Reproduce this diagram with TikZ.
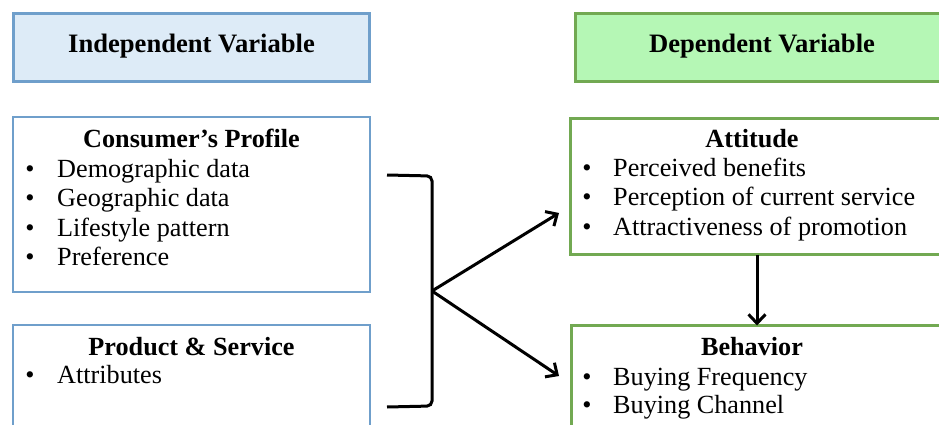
\documentclass[tikz,border=0pt]{standalone}
\usepackage{fontspec}
\setmainfont{Liberation Serif}
\usetikzlibrary{arrows.meta}
\definecolor{ivfill}{HTML}{DDEBF7}
\definecolor{ivline}{HTML}{6F9FCB}
\definecolor{dvfill}{HTML}{B5F7B5}
\definecolor{dvline}{HTML}{72A952}
\begin{document}
\begin{tikzpicture}[x=1pt,y=-1pt,
  font=\fontsize{26.2}{30}\selectfont,
  headiv/.style={draw=ivline, fill=ivfill, line width=3pt, anchor=north west, inner sep=0pt, outer sep=0pt},
  headdv/.style={draw=dvline, fill=dvfill, line width=3pt, anchor=north west, inner sep=0pt, outer sep=0pt},
  boxiv/.style={draw=ivline, fill=white, line width=2.2pt, anchor=north west, inner sep=0pt, outer sep=0pt},
  boxdv/.style={draw=dvline, fill=white, line width=3pt, anchor=north west, inner sep=0pt, outer sep=0pt},
  ttl/.style={anchor=base, font=\fontsize{26.2}{30}\selectfont\bfseries, inner sep=0pt},
  httl/.style={anchor=base, font=\fontsize{26.6}{30}\selectfont\bfseries, inner sep=0pt},
  itm/.style={anchor=base west, inner sep=0pt},
  bul/.style={anchor=base, inner sep=0pt},
  conn/.style={line width=3pt, black},
  arr/.style={line width=3pt, black, -{Straight Barb[length=9pt,width=17pt]}}
]
\useasboundingbox (0,0) rectangle (939,425);
\fill[white] (0,0) rectangle (939,425);
\clip (0,0) rectangle (939,425);

% headers
\node[headiv, minimum width=356pt, minimum height=68pt] (ivh) at (13.5,13.5) {};
\node[httl] (ivht) at (191.5,53) {Independent Variable};
\node[headdv, minimum width=400pt, minimum height=68pt] (dvh) at (575.5,13.5) {};
\node[httl] (dvht) at (762,53) {Dependent Variable};

% Consumer's Profile
\node[boxiv, minimum width=357pt, minimum height=175pt] (cp) at (13,117) {};
\node[ttl] (cpt) at (191.5,147) {Consumer’s Profile};
\node[bul] (cpb1) at (30,177) {•};
\node[itm] (cp1) at (57,177) {Demographic data};
\node[bul] (cpb2) at (30,206) {•};
\node[itm] (cp2) at (57,206) {Geographic data};
\node[bul] (cpb3) at (30,236) {•};
\node[itm] (cp3) at (57,236) {Lifestyle pattern};
\node[bul] (cpb4) at (30,265) {•};
\node[itm] (cp4) at (57,265) {Preference};

% Product & Service
\node[boxiv, minimum width=357pt, minimum height=130pt] (ps) at (13,325) {};
\node[ttl] (pst) at (191.5,355) {Product \& Service};
\node[bul] (psb1) at (30,383) {•};
\node[itm] (ps1) at (57,383) {Attributes};

% Attitude
\node[boxdv, minimum width=400pt, minimum height=136pt] (att) at (570.5,118.5) {};
\node[ttl] (attt) at (752,147) {Attitude};
\node[bul] (atb1) at (587,176) {•};
\node[itm] (at1) at (613,176) {Perceived benefits};
\node[bul] (atb2) at (587,205) {•};
\node[itm] (at2) at (613,205) {Perception of current service};
\node[bul] (atb3) at (587,235) {•};
\node[itm] (at3) at (613,235) {Attractiveness of promotion};

% Behavior
\node[boxdv, minimum width=400pt, minimum height=130pt] (beh) at (571.5,325.5) {};
\node[ttl] (beht) at (752,355) {Behavior};
\node[bul] (bhb1) at (587,385) {•};
\node[itm] (bh1) at (613,385) {Buying Frequency};
\node[bul] (bhb2) at (587,413) {•};
\node[itm] (bh2) at (613,413) {Buying Channel};

% bracket and arrows
\coordinate (btop) at (387,175);
\coordinate (bbot) at (387,407);
\coordinate (fork) at (432,291);
\coordinate (tipa) at (559,213);
\coordinate (tipb) at (559,376);
\coordinate (abx) at (757,0);
\draw[conn, rounded corners=5pt] (btop) -- (432,176) -- (432,406) -- (bbot);
\draw[arr] (fork) -- (tipa);
\draw[arr] (fork) -- (tipb);
\draw[arr] (att.south -| abx) -- (beh.north -| abx);
\end{tikzpicture}
\end{document}
